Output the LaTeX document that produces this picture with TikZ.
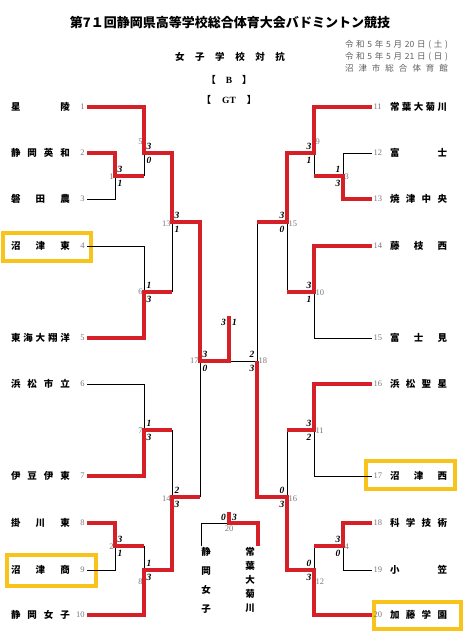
\documentclass[tikz,border=0pt]{standalone}
\usepackage{fontspec}
\setmainfont{Liberation Serif}
\newfontfamily\jp{Noto Sans CJK JP}
\usetikzlibrary{calc}
\definecolor{bred}{RGB}{214,32,39}
\definecolor{byel}{RGB}{248,196,28}
\definecolor{numgray}{RGB}{120,120,120}
\definecolor{dgray}{RGB}{95,95,95}
\newcommand\nmL[1]{\makebox[59pt]{#1}}
\newcommand\nmR[1]{\makebox[57pt]{#1}}
\newcommand\scL[3]{\node[sc] (#1a) at ($(#1)+(5,-7)$) {#2};\node[sc] (#1b) at ($(#1)+(5,7)$) {#3};}
\newcommand\scR[3]{\node[sc] (#1a) at ($(#1)+(-5,-7)$) {#2};\node[sc] (#1b) at ($(#1)+(-5,7)$) {#3};}
\tikzset{
  every node/.style={inner sep=0pt, outer sep=0pt},
  tname/.style={font=\jp\bfseries\fontsize{9.5}{11}\selectfont},
  tnum/.style={font=\fontsize{8.5}{10}\selectfont, text=numgray, inner xsep=2.5pt},
  mnum/.style={font=\fontsize{8.5}{10}\selectfont, text=numgray},
  sc/.style={font=\bfseries\itshape\fontsize{9.5}{10}\selectfont},
  lose/.style={draw=black, line width=0.9pt},
  win/.style={draw=bred, line width=3.2pt},
  hl/.style={draw=byel, line width=4pt},
  vname/.style={font=\jp\bfseries\fontsize{9.5}{12}\selectfont, align=center},
  datef/.style={font=\jp\fontsize{8.5}{10}\selectfont, text=dgray, anchor=east},
}
\begin{document}
\begin{tikzpicture}[x=1pt,y=-1pt]
\useasboundingbox (0,0) rectangle (464,638);
\fill[white] (0,0) rectangle (464,638);

% titles
\node[font=\jp\bfseries\fontsize{13}{15}\selectfont] (title) at (230,23) {第7１回静岡県高等学校総合体育大会バドミントン競技};
\node[font=\jp\bfseries\fontsize{9.5}{11}\selectfont] (sub) at (230,57) {\makebox[110pt]{女\hfill 子\hfill 学\hfill 校\hfill 対\hfill 抗}};
\node[font=\jp\bfseries\fontsize{9.5}{11}\selectfont] (blk) at (229,80) {【\hspace{10pt}{\rmfamily B}\hspace{10pt}】};
\node[font=\jp\bfseries\fontsize{9.5}{11}\selectfont] (gt) at (229,100) {【\hspace{11pt}{\rmfamily GT}\hspace{11pt}】};
\node[datef] (d1) at (448,45) {\makebox[103pt]{令\hfill 和\hfill 5\hfill 年\hfill 5\hfill 月\hfill 20\hfill 日\hfill (\hfill 土\hfill )}};
\node[datef] (d2) at (448,57) {\makebox[103pt]{令\hfill 和\hfill 5\hfill 年\hfill 5\hfill 月\hfill 21\hfill 日\hfill (\hfill 日\hfill )}};
\node[datef] (d3) at (448,68) {\makebox[103pt]{沼\hfill 津\hfill 市\hfill 総\hfill 合\hfill 体\hfill 育\hfill 館}};

% highlight boxes
\draw[hl] (3,233) rectangle (91,261);
\draw[hl] (7,555) rectangle (96,586);
\draw[hl] (366,461) rectangle (455,489);
\draw[hl] (374,602) rectangle (461,629);

% left teams
\node[tname, anchor=east] (n1) at (70,107) {\nmL{星\hfill 陵}};
\node[tname, anchor=east] (n2) at (70,153) {\nmL{静\hfill 岡\hfill 英\hfill 和}};
\node[tname, anchor=east] (n3) at (70,199) {\nmL{磐\hfill 田\hfill 農}};
\node[tname, anchor=east] (n4) at (70,246) {\nmL{沼\hfill 津\hfill 東}};
\node[tname, anchor=east] (n5) at (70,338) {\nmL{東\hfill 海\hfill 大\hfill 翔\hfill 洋}};
\node[tname, anchor=east] (n6) at (70,384) {\nmL{浜\hfill 松\hfill 市\hfill 立}};
\node[tname, anchor=east] (n7) at (70,476) {\nmL{伊\hfill 豆\hfill 伊\hfill 東}};
\node[tname, anchor=east] (n8) at (70,523) {\nmL{掛\hfill 川\hfill 東}};
\node[tname, anchor=east] (n9) at (70,570) {\nmL{沼\hfill 津\hfill 商}};
\node[tname, anchor=east] (n10) at (70,615) {\nmL{静\hfill 岡\hfill 女\hfill 子}};
\foreach \i/\y in {1/107,2/153,3/199,4/246,5/338,6/384,7/476,8/523,9/570,10/615}
  \node[tnum, anchor=east] (t\i) at (87,\y) {\i};

% right teams
\node[tname, anchor=west] (n11) at (390,107) {\nmR{常\hfill 葉\hfill 大\hfill 菊\hfill 川}};
\node[tname, anchor=west] (n12) at (390,153) {\nmR{富\hfill 士}};
\node[tname, anchor=west] (n13) at (390,199) {\nmR{焼\hfill 津\hfill 中\hfill 央}};
\node[tname, anchor=west] (n14) at (390,246) {\nmR{藤\hfill 枝\hfill 西}};
\node[tname, anchor=west] (n15) at (390,338) {\nmR{富\hfill 士\hfill 見}};
\node[tname, anchor=west] (n16) at (390,384) {\nmR{浜\hfill 松\hfill 聖\hfill 星}};
\node[tname, anchor=west] (n17) at (390,476) {\nmR{沼\hfill 津\hfill 西}};
\node[tname, anchor=west] (n18) at (390,523) {\nmR{科\hfill 学\hfill 技\hfill 術}};
\node[tname, anchor=west] (n19) at (390,570) {\nmR{小\hfill 笠}};
\node[tname, anchor=west] (n20) at (390,615) {\nmR{加\hfill 藤\hfill 学\hfill 園}};
\foreach \i/\y in {11/107,12/153,13/199,14/246,15/338,16/384,17/476,18/523,19/570,20/615}
  \node[tnum, anchor=west, inner xsep=1.5pt] (t\i) at (372,\y) {\i};

% junctions left
\coordinate (m1) at (115,176);
\coordinate (m5) at (144,153);
\coordinate (m6) at (144,292);
\coordinate (m13) at (172,222);
\coordinate (m7) at (144,430);
\coordinate (m2) at (115,546);
\coordinate (m8) at (144,570);
\coordinate (m14) at (172,497);
\coordinate (m17) at (200,361);
\coordinate (fin) at (229,361);
\coordinate (fintop) at (229,316);
% junctions right
\coordinate (m9) at (314,153);
\coordinate (m3) at (343,176);
\coordinate (m10) at (314,292);
\coordinate (m15) at (287,222);
\coordinate (m11) at (314,430);
\coordinate (m4) at (343,546);
\coordinate (m12) at (314,570);
\coordinate (m16) at (287,497);
\coordinate (m18) at (257,361);
% third place
\coordinate (q1) at (201,546);
\coordinate (q2) at (258,546);
\coordinate (m20) at (229,523);
\coordinate (m20top) at (229,512);

% losing lines
\draw[lose] (t3.east) -| (m1);
\draw[lose] (m1 -| m5) -- (m5);
\draw[lose] (t4.east) -| (m6);
\draw[lose] (m6 -| m13) -- (m13);
\draw[lose] (t6.east) -| (m7);
\draw[lose] (m7 -| m14) -- (m14);
\draw[lose] (t9.east) -| (m2);
\draw[lose] (m2 -| m8) -- (m8);
\draw[lose] (m14 -| m17) -- (m17);
\draw[lose] (t12.west) -| (m3);
\draw[lose] (m3 -| m9) -- (m9);
\draw[lose] (t15.west) -| (m10);
\draw[lose] (m10 -| m15) -- (m15);
\draw[lose] (t17.west) -| (m11);
\draw[lose] (m11 -| m16) -- (m16);
\draw[lose] (t19.west) -| (m4);
\draw[lose] (m4 -| m12) -- (m12);
\draw[lose] (m15 -| m18) -- (m18);
\draw[lose] (m18) -- (fin);
\draw[lose] (q1) |- (m20);

% winning lines
\draw[win] (t1.east) -| (m5) -| (m13) -| (m17) -- (fin) -- (fintop);
\draw[win] (t2.east) -| (m1) -- (m1 -| m5);
\draw[win] (t5.east) -| (m6) -- (m6 -| m13);
\draw[win] (t7.east) -| (m7) -- (m7 -| m14);
\draw[win] (t8.east) -| (m2) -- (m2 -| m8);
\draw[win] (t10.east) -| (m8) -| (m14) -- (m14 -| m17);
\draw[win] (t11.west) -| (m9) -| (m15) -- (m15 -| m18);
\draw[win] (t13.west) -| (m3) -- (m3 -| m9);
\draw[win] (t14.west) -| (m10) -- (m10 -| m15);
\draw[win] (t16.west) -| (m11) -- (m11 -| m16);
\draw[win] (t18.west) -| (m4) -- (m4 -| m12);
\draw[win] (t20.west) -| (m12) -| (m16) -| (m18);
\draw[win] (q2) |- (m20) -- (m20top);

% match labels left
\node[mnum, anchor=east] (l1) at ($(m1)+(-1.5,1)$) {1};
\node[mnum, anchor=east] (l5) at ($(m5)+(-1.5,-11)$) {5};
\node[mnum, anchor=east] (l6) at ($(m6)+(-1.5,0)$) {6};
\node[mnum, anchor=east] (l13) at ($(m13)+(-1.5,2)$) {13};
\node[mnum, anchor=east] (l7) at ($(m7)+(-1.5,1)$) {7};
\node[mnum, anchor=east] (l2) at ($(m2)+(-1.5,1)$) {2};
\node[mnum, anchor=east] (l8) at ($(m8)+(-1.5,12)$) {8};
\node[mnum, anchor=east] (l14) at ($(m14)+(-1.5,2)$) {14};
\node[mnum, anchor=east] (l17) at ($(m17)+(-1.5,0)$) {17};
% match labels right
\node[mnum, anchor=west] (l9) at ($(m9)+(1.5,-11)$) {9};
\node[mnum, anchor=west] (l3) at ($(m3)+(1.5,1)$) {3};
\node[mnum, anchor=west] (l15) at ($(m15)+(1.5,2)$) {15};
\node[mnum, anchor=west] (l10) at ($(m10)+(1.5,1)$) {10};
\node[mnum, anchor=west] (l18) at ($(m18)+(1.5,0)$) {18};
\node[mnum, anchor=west] (l11) at ($(m11)+(1.5,1)$) {11};
\node[mnum, anchor=west] (l16) at ($(m16)+(1.5,2)$) {16};
\node[mnum, anchor=west] (l4) at ($(m4)+(1.5,1)$) {4};
\node[mnum, anchor=west] (l12) at ($(m12)+(1.5,12)$) {12};
\node[mnum] (l20) at (229,529) {20};

% scores
\scL{m1}{3}{1}
\scL{m5}{3}{0}
\scL{m6}{1}{3}
\scL{m13}{3}{1}
\scL{m7}{1}{3}
\scL{m2}{3}{1}
\scL{m8}{1}{3}
\scL{m14}{2}{3}
\scL{m17}{3}{0}
\scR{m9}{3}{1}
\scR{m3}{1}{3}
\scR{m10}{3}{1}
\scR{m15}{3}{0}
\scR{m11}{3}{2}
\scR{m4}{3}{0}
\scR{m12}{0}{3}
\scR{m16}{0}{3}
\scR{m18}{2}{3}
\node[sc] (fs1) at (223.5,322) {3};
\node[sc] (fs2) at (234.5,322) {1};
\node[sc] (ts1) at (223.5,517) {0};
\node[sc] (ts2) at (234.5,517) {3};

% third place names
\node[vname, anchor=north] (v1) at (206,547) {静\\[7pt]岡\\[7pt]女\\[7pt]子};
\node[vname, anchor=north] (v2) at (250,547) {常\\[2pt]葉\\[2pt]大\\[2pt]菊\\[2pt]川};
\end{tikzpicture}
\end{document}
